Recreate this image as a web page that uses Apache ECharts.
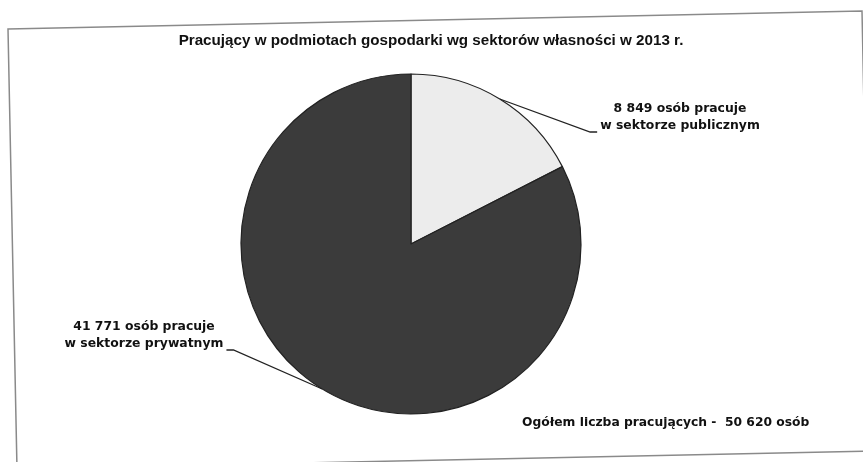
<!DOCTYPE html>
<html>
<head>
<meta charset="utf-8">
<script src="https://cdn.jsdelivr.net/npm/echarts@6/dist/echarts.min.js"></script>
<style>html,body{margin:0;padding:0;background:#fff}#c{width:863px;height:462px}</style>
</head>
<body>
<div id="c"></div>
<script>
var titleText = 'Pracujący w podmiotach gospodarki wg sektorów własności w 2013 r.';
var sectors = ['publicznym', 'prywatnym'];
var values = [8849, 41771];
var totalText = 'Ogółem liczba pracujących -  50 620 osób';
var sliceColors = ['#ececec', '#3b3b3b'];

function fmt(n){ return String(n).replace(/\B(?=(\d{3})+(?!\d))/g, ' '); }

var labelCenters = [[680, 117], [144, 335]];

var chart = echarts.init(document.getElementById('c'), null, {renderer: 'canvas'});
chart.setOption({
  backgroundColor: '#fff',
  animation: false,
  title: {
    text: titleText,
    left: 426, top: 28, textAlign: 'center',
    textStyle: {fontFamily: '"Liberation Sans", Arial, sans-serif', fontWeight: 'bold', fontSize: 15.2, color: '#111'}
  },
  graphic: [
    {type: 'polygon', shape: {points: [[8,29],[862,11],[871,451],[17,469]]}, style: {fill: 'none', stroke: '#8a8a8a', lineWidth: 1.5}, z: -1},
    {type: 'text', left: 522, top: 417, style: {text: totalText, font: 'bold 12.3px "DejaVu Sans", sans-serif', fill: '#111'}}
  ],
  series: [{
    type: 'pie',
    center: [411, 244],
    radius: 170,
    startAngle: 90,
    clockwise: true,
    data: values.map(function(v, i){
      return {value: v, name: sectors[i], itemStyle: {color: sliceColors[i]}};
    }),
    itemStyle: {borderColor: '#222', borderWidth: 1.2},
    emphasis: {disabled: true},
    label: {
      show: true,
      position: 'outside',
      formatter: function(p){ return fmt(p.value) + ' osób pracuje\nw sektorze ' + p.name; },
      fontFamily: '"DejaVu Sans", sans-serif',
      fontWeight: 'bold',
      fontSize: 12.4,
      lineHeight: 17,
      color: '#111'
    },
    labelLine: {show: true, length: 10, length2: 10, lineStyle: {color: '#222', width: 1.3}},
    labelLayout: function(params){
      var i = params.dataIndex;
      var c = labelCenters[i];
      var w = params.labelRect.width, h = params.labelRect.height;
      var start = params.labelLinePoints ? params.labelLinePoints[0] : [0,0];
      var pts;
      var by = c[1] + h/2 - 2;
      if (i === 0) {
        var lx = c[0] - w/2;
        pts = [start, [lx - 10, by], [lx - 3, by]];
      } else {
        var rx = c[0] + w/2;
        pts = [start, [rx + 10, by], [rx + 3, by]];
      }
      return {x: c[0], y: c[1], align: 'center', verticalAlign: 'middle', labelLinePoints: pts};
    }
  }]
});
</script>
</body>
</html>
